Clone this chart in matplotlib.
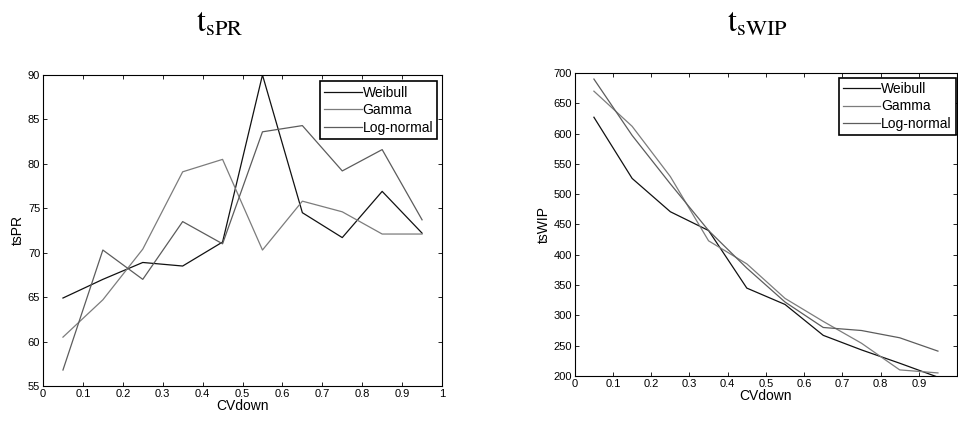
import matplotlib.pyplot as plt
import numpy as np

plt.rcParams['font.family'] = ['Liberation Sans', 'DejaVu Sans']
plt.rcParams['mathtext.fontset'] = 'stix'

# CV of downtime
cv_down = [0.05, 0.15, 0.25, 0.35, 0.45, 0.55, 0.65, 0.75, 0.85, 0.95]
labels = ['Weibull', 'Gamma', 'Log-normal']
xtick_labels = ['0', '0.1', '0.2', '0.3', '0.4', '0.5', '0.6', '0.7', '0.8', '0.9', '1']

# tsPR per distribution
pr_weibull = [64.9, 67.0, 68.9, 68.5, 71.2, 90.0, 74.5, 71.7, 76.9, 72.2]
pr_gamma = [60.5, 64.7, 70.4, 79.1, 80.5, 70.3, 75.8, 74.6, 72.1, 72.1]
pr_lognormal = [56.8, 70.3, 67.0, 73.5, 71.0, 83.6, 84.3, 79.2, 81.6, 73.7]

# tsWIP per distribution
wip_weibull = [627, 526, 471, 440, 345, 318, 267, 243, 221, 198]
wip_gamma = [670, 612, 529, 423, 385, 328, 290, 254, 210, 205]
wip_lognormal = [690, 597, 517, 440, 378, 322, 280, 275, 263, 241]

colors = ['#111111', '#7c7c7c', '#5c5c5c']


def style_axes(ax, ylim, yticks, xlabels):
    ax.set_xlim(0, 1)
    ax.set_ylim(*ylim)
    ax.set_xticks(np.arange(0, 1.01, 0.1))
    ax.set_xticklabels(xlabels)
    ax.set_yticks(yticks)
    ax.tick_params(direction='in', top=True, right=True, labelsize=8, length=3, width=0.6, pad=2)
    for s in ax.spines.values():
        s.set_linewidth(0.8)
    ax.set_xlabel('CVdown', fontsize=10, labelpad=0)


def add_legend(ax, anchor):
    leg = ax.legend(labels, loc='upper right', bbox_to_anchor=anchor, fontsize=10,
                    fancybox=False, framealpha=1, edgecolor='black',
                    handlelength=2.7, handletextpad=0.05, borderpad=0.3,
                    labelspacing=0.25, borderaxespad=0)
    leg.get_frame().set_linewidth(1.2)


fig = plt.figure(figsize=(9.58, 4.21), dpi=100)

ax1 = fig.add_axes([0.0449, 0.0831, 0.4165, 0.7389])
for ys, c in zip([pr_weibull, pr_gamma, pr_lognormal], colors):
    ax1.plot(cv_down, ys, color=c, lw=0.9)
style_axes(ax1, (55, 90), np.arange(55, 91, 5), xtick_labels)
ax1.set_ylabel('tsPR', fontsize=10, labelpad=2)
add_legend(ax1, (0.988, 0.979))

# right panel is clipped at the figure edge, so its "1" label is not shown
ax2 = fig.add_axes([0.600, 0.107, 0.399, 0.7196])
for ys, c in zip([wip_weibull, wip_gamma, wip_lognormal], colors):
    ax2.plot(cv_down, ys, color=c, lw=0.9)
style_axes(ax2, (200, 700), np.arange(200, 701, 50), xtick_labels[:-1] + [''])
ax2.set_ylabel('tsWIP', fontsize=10, labelpad=2)
add_legend(ax2, (0.997, 0.984))

fig.text(0.229, 0.943, r'$\mathrm{t}_{\mathrm{sPR}}$', fontsize=23, ha='center', va='center')
fig.text(0.791, 0.943, r'$\mathrm{t}_{\mathrm{sWIP}}$', fontsize=23, ha='center', va='center')

fig.savefig('out.png', dpi=100)
